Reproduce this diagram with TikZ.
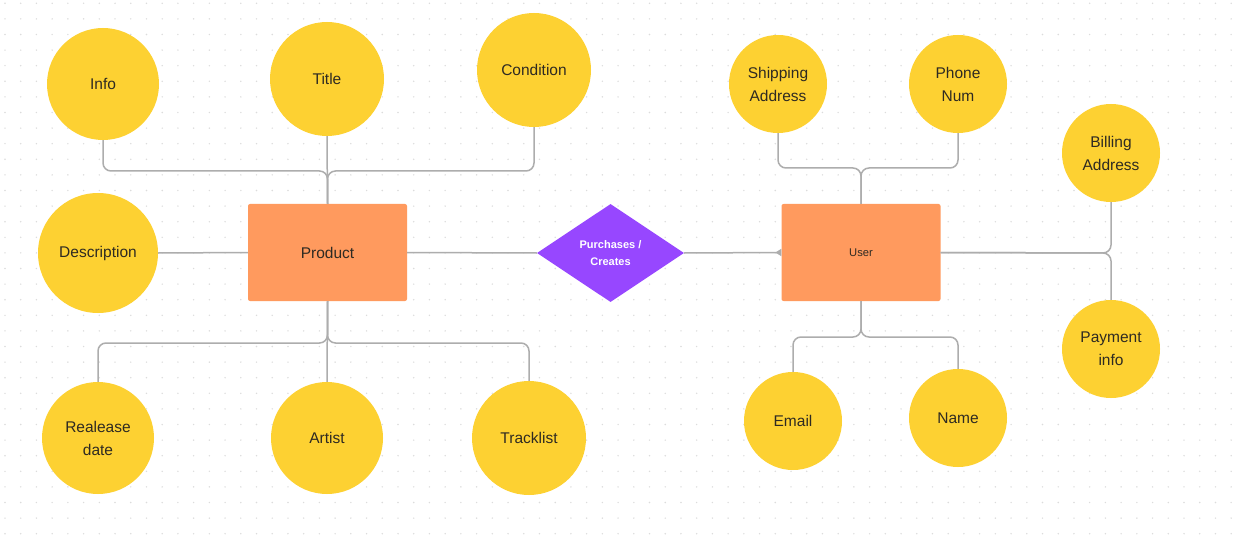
\documentclass[tikz,border=0pt]{standalone}
\usepackage{fontspec}
\setmainfont{Liberation Sans}
\usetikzlibrary{shapes.geometric,arrows.meta}
\definecolor{attr}{HTML}{FDD132}
\definecolor{ent}{HTML}{FF9A5E}
\definecolor{rel}{HTML}{9747FF}
\definecolor{conncol}{HTML}{ADADAD}
\definecolor{txt}{HTML}{2E2A22}
\definecolor{dotcol}{HTML}{DCDCDC}
\tikzset{
  attrnode/.style={circle,fill=attr,draw=none,minimum size=#1,inner sep=0pt,align=center,
    text=txt,font=\fontsize{15.5}{23}\selectfont},
  entnode/.style={rectangle,fill=ent,draw=none,rounded corners=2pt,minimum width=159pt,minimum height=97pt,
    text=txt},
  relnode/.style={diamond,fill=rel,draw=none,minimum width=147pt,minimum height=98pt,inner sep=0pt,
    align=center,text=white,font=\bfseries\fontsize{11}{17}\selectfont},
  conn/.style={draw=conncol,line width=1.5pt,rounded corners=8pt},
}
\begin{document}
\begin{tikzpicture}[x=1pt,y=-1pt]
\useasboundingbox (0,0) rectangle (1239,540);
\fill[white] (0,0) rectangle (1239,540);
\foreach \i in {0,...,78} {
  \foreach \j in {0,...,34} {
    \fill[dotcol] (5+15.72*\i,3.3+15.6*\j) circle (0.8);
  }
}
% entities
\node[entnode,font=\fontsize{15.5}{19}\selectfont] (prod) at (327.5,252.5) {Product};
\node[entnode,font=\fontsize{11.2}{14}\selectfont] (user) at (861,252.5) {User};
\node[relnode] (rel) at (610.5,253) {Purchases /\\Creates};
% product attributes
\node[attrnode=112pt] (info) at (103,84) {Info};
\node[attrnode=114pt] (title) at (327,79) {Title};
\node[attrnode=114pt] (cond) at (534,70) {Condition};
\node[attrnode=120pt] (desc) at (98,253) {Description};
\node[attrnode=112pt] (rdate) at (98,438) {Realease\\date};
\node[attrnode=112pt] (artist) at (327,438) {Artist};
\node[attrnode=114pt] (track) at (529,438) {Tracklist};
% user attributes
\node[attrnode=98pt] (ship) at (778,84) {Shipping\\Address};
\node[attrnode=98pt] (phone) at (958,84) {Phone\\Num};
\node[attrnode=98pt] (bill) at (1111,153) {Billing\\Address};
\node[attrnode=98pt] (pay) at (1111,349) {Payment\\info};
\node[attrnode=98pt] (email) at (793,421) {Email};
\node[attrnode=98pt] (name) at (958,418) {Name};
% junctions
\coordinate (pt) at (327.5,171);
\coordinate (pb) at (327.5,343);
\coordinate (ut) at (861,168);
\coordinate (ub) at (861,337);
\coordinate (ur) at (1111,253);
% product connectors
\draw[conn] (info.south) |- (pt) -- (prod.north);
\draw[conn] (cond.south) |- (pt) -- (prod.north);
\draw[conn] (title.south) -- (prod.north);
\draw[conn] (desc.east) -- (prod.west);
\draw[conn] (rdate.north) |- (pb) -- (prod.south);
\draw[conn] (track.north) |- (pb) -- (prod.south);
\draw[conn] (artist.north) -- (prod.south);
% relationship
\draw[conn] (prod.east) -- (rel.west);
\draw[conn,-{Triangle[reversed,length=6pt,width=7pt]}] (rel.east) -- (user.west);
% user connectors
\draw[conn] (ship.south) |- (ut) -- (user.north);
\draw[conn] (phone.south) |- (ut) -- (user.north);
\draw[conn] (email.north) |- (ub) -- (user.south);
\draw[conn] (name.north) |- (ub) -- (user.south);
\draw[conn] (bill.south) -- (ur) -- (user.east);
\draw[conn] (pay.north) -- (ur) -- (user.east);
\end{tikzpicture}
\end{document}
